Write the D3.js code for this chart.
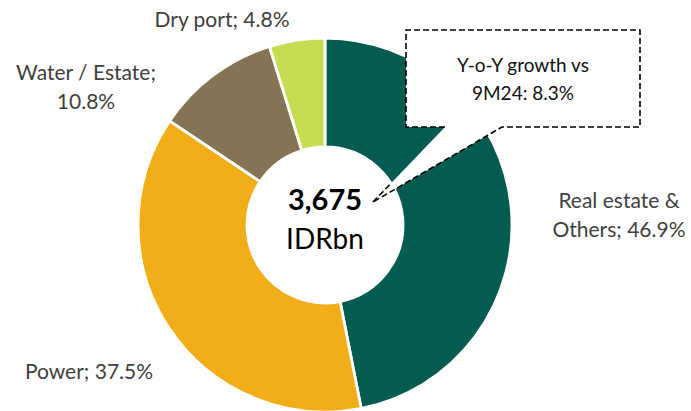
<!DOCTYPE html>
<html>
<head>
<meta charset="utf-8">
<script src="https://cdn.jsdelivr.net/npm/d3@7"></script>
<style>
  html, body { margin: 0; padding: 0; background: #fff; }
  svg { display: block; }
</style>
</head>
<body>
<svg id="chart" width="691" height="411"></svg>
<script>
// ---- data ----
const categories = ["Real estate & Others", "Power", "Water / Estate", "Dry port"];
const shares = [46.9, 37.5, 10.8, 4.8];
const labelLines = [["Real estate &", "Others; 46.9%"], ["Power; 37.5%"], ["Water / Estate;", "10.8%"], ["Dry port; 4.8%"]];
const totalValue = "3,675";
const totalUnit = "IDRbn";
const calloutLines = ["Y-o-Y growth vs", "9M24: 8.3%"];

// ---- layout ----
const colors = ["#035C4F", "#F2AE19", "#857453", "#C8DC51"];
const cx = 325, cy = 225, outerR = 187, innerR = 78;
const labelAnchors = [[619, 208], [89, 379], [86, 80], [222, 27]];
const lineGap = 29;

const svg = d3.select("#chart");
const g = svg.append("g").attr("transform", `translate(${cx},${cy})`);

const pie = d3.pie().sort(null).value(d => d);
const arc = d3.arc().innerRadius(innerR).outerRadius(outerR);

g.selectAll("path.slice")
  .data(pie(shares))
  .join("path")
  .attr("class", "slice")
  .attr("d", arc)
  .attr("fill", (d, i) => colors[i])
  .attr("stroke", "#fff")
  .attr("stroke-width", 2.8)
  .attr("stroke-linejoin", "miter");

// center text
g.append("text")
  .attr("x", 0).attr("y", -15)
  .attr("text-anchor", "middle")
  .attr("font-family", "Lato, 'Open Sans', sans-serif")
  .attr("font-weight", 700)
  .attr("font-size", 29)
  .attr("fill", "#000")
  .text(totalValue);
g.append("text")
  .attr("x", 0).attr("y", 24)
  .attr("text-anchor", "middle")
  .attr("font-family", "Lato, 'Open Sans', sans-serif")
  .attr("font-size", 28)
  .attr("fill", "#000")
  .text(totalUnit);

// slice labels
labelLines.forEach((lines, i) => {
  const t = svg.append("text")
    .attr("text-anchor", "middle")
    .attr("font-family", "Lato, 'Open Sans', sans-serif")
    .attr("font-size", 21)
    .attr("fill", "#404040");
  lines.forEach((ln, j) => {
    t.append("tspan")
      .attr("x", labelAnchors[i][0])
      .attr("y", labelAnchors[i][1] + j * lineGap)
      .text(ln);
  });
});

// callout
const box = {x0: 406, y0: 30, x1: 640, y1: 127};
const tailL = [445, 127], tailR = [502, 127], tip = [373, 202];
const calloutPts = [[box.x0, box.y0], [box.x1, box.y0], [box.x1, box.y1], tailR, tip, tailL, [box.x0, box.y1]];
svg.append("path")
  .attr("d", d3.line()(calloutPts) + "Z")
  .attr("fill", "#fff")
  .attr("stroke", "none");
const dash = "6,3";
svg.append("path")
  .attr("d", d3.line()([tailL, [box.x0, box.y1], [box.x0, box.y0], [box.x1, box.y0], [box.x1, box.y1], tailR, tip]))
  .attr("fill", "none")
  .attr("stroke", "#000")
  .attr("stroke-width", 1.6)
  .attr("stroke-dasharray", dash);
const tt = 0.25;
const mid = [tip[0] + (tailL[0] - tip[0]) * tt, tip[1] + (tailL[1] - tip[1]) * tt];
svg.append("path")
  .attr("d", d3.line()([tip, mid]))
  .attr("fill", "none")
  .attr("stroke", "#000")
  .attr("stroke-width", 1.6)
  .attr("stroke-dasharray", dash);

const ct = svg.append("text")
  .attr("text-anchor", "middle")
  .attr("font-family", "Lato, 'Open Sans', sans-serif")
  .attr("font-size", 19)
  .attr("fill", "#111");
calloutLines.forEach((ln, j) => {
  ct.append("tspan").attr("x", 523).attr("y", 72 + j * 28).text(ln);
});
</script>
</body>
</html>
